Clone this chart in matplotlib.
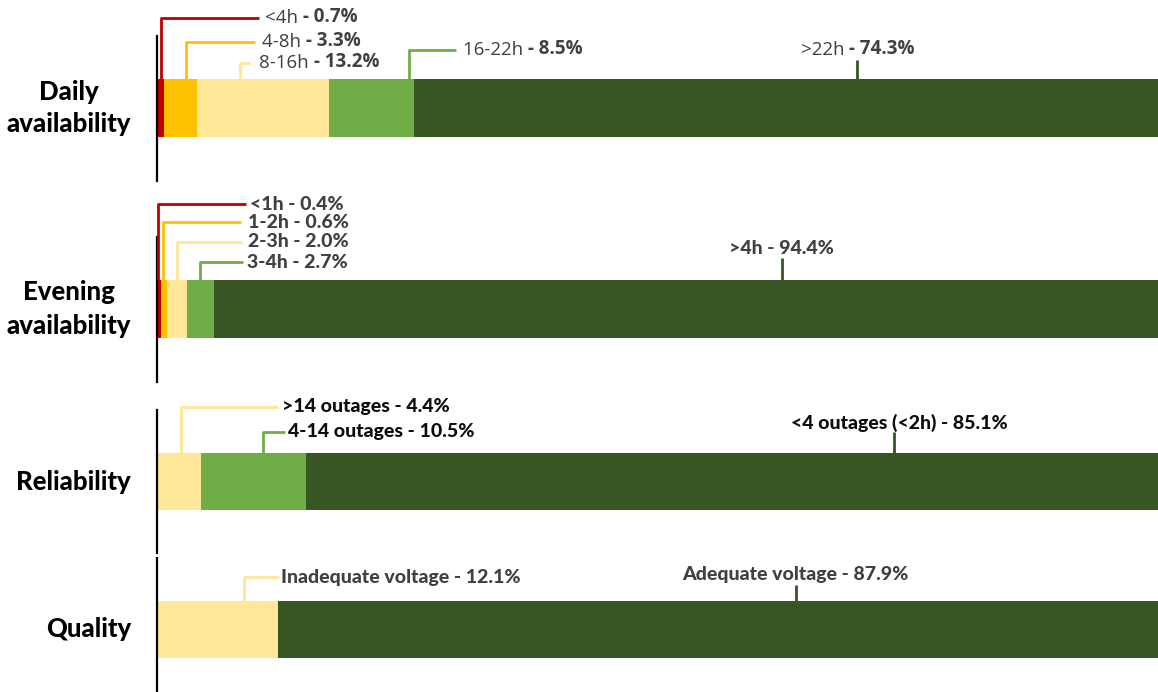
import matplotlib
matplotlib.use("Agg")
import matplotlib.pyplot as plt
from matplotlib.transforms import offset_copy

plt.rcParams['font.family'] = ['Lato', 'DejaVu Sans']

# ---------------- data ----------------
categories = ["Daily\navailability", "Evening\navailability", "Reliability", "Quality"]

daily_labels = ["<4h", "4-8h", "8-16h", "16-22h", ">22h"]
daily_values = [0.7, 3.3, 13.2, 8.5, 74.3]

evening_labels = ["<1h", "1-2h", "2-3h", "3-4h", ">4h"]
evening_values = [0.4, 0.6, 2.0, 2.7, 94.4]

reliability_labels = [">14 outages", "4-14 outages", "<4 outages (<2h)"]
reliability_values = [4.4, 10.5, 85.1]

quality_labels = ["Inadequate voltage", "Adequate voltage"]
quality_values = [12.1, 87.9]

# ---------------- styles ----------------
RED, ORANGE, PALE, GREEN, DARK = "#C00000", "#FFC000", "#FFE699", "#70AD47", "#375623"
colors5 = [RED, ORANGE, PALE, GREEN, DARK]
colors3 = [PALE, GREEN, DARK]
colors2 = [PALE, DARK]
GREY = "#404040"

W, H = 1158, 692
fig = plt.figure(figsize=(W / 100, H / 100), dpi=100)

# panel geometry in pixels: (bar centre y, bar height px)
panels = [(108, 58), (309, 58), (481.5, 57), (629, 57)]
x0_px, x1_px = 157, 1158

# label layout per panel: (anchor_x %, label_y units, line_end_x %, text_x %, ha)
layouts = [
    [(0.4, 1.55, 10.2, 10.8, 'left'), (2.9, 1.14, 9.8, 10.5, 'left'),
     (8.3, 0.78, 9.3, 10.2, 'left'), (25.2, 1.0, 29.9, 30.6, 'left'),
     (69.9, 1.0, None, 70.0, 'center')],
    [(0.05, 1.81, 8.9, 9.3, 'left'), (0.6, 1.50, 8.4, 9.1, 'left'),
     (2.0, 1.16, 8.5, 9.1, 'left'), (4.3, 0.81, 8.6, 9.0, 'left'),
     (62.4, 1.05, None, 62.4, 'center')],
    [(2.4, 1.31, 12.1, 12.5, 'left'), (10.6, 0.87, 12.8, 13.1, 'left'),
     (73.6, 1.03, None, 74.2, 'center')],
    [(8.7, 0.91, 12.2, 12.4, 'left'), (63.8, 0.95, None, 63.8, 'center')],
]

series = [
    (daily_labels, daily_values, colors5),
    (evening_labels, evening_values, colors5),
    (reliability_labels, reliability_values, colors3),
    (quality_labels, quality_values, colors2),
]
text_styles = [
    dict(fs=13.5, color=GREY, mixed=True, family='Open Sans'),
    dict(fs=14, color=GREY, mixed=False, family='Lato'),
    dict(fs=14, color='#0D0D0D', mixed=False, family='Lato'),
    dict(fs=14, color=GREY, mixed=False, family='Lato'),
]

span = 2.5  # axes height in bar-height units
fig.canvas.draw()
renderer = fig.canvas.get_renderer()

for i, (cat, (labels, values, cols), lay, st, (cy, bh)) in enumerate(
        zip(categories, series, layouts, text_styles, panels)):
    ax_h = bh * span
    bottom_px = cy + ax_h / 2
    ax = fig.add_axes([x0_px / W, 1 - bottom_px / H, (x1_px - x0_px) / W, ax_h / H])
    ax.set_xlim(0, 100)
    ax.set_ylim(-span / 2, span / 2)
    left = 0
    for v, c in zip(values, cols):
        ax.barh(0, v, left=left, height=1, color=c, linewidth=0)
        left += v
    for s in ['top', 'right', 'bottom']:
        ax.spines[s].set_visible(False)
    ax.spines['left'].set_linewidth(1.6)
    ax.spines['left'].set_color('black')
    ax.set_xticks([])
    ax.set_yticks([])
    ax.set_zorder(2 if i == 0 else 1)

    # category label
    fig.text(131 / W, 1 - cy / H, cat, ha='right', va='center', fontsize=18.5,
             fontweight='black', color='black', family='Lato', linespacing=1.45,
             multialignment='center')

    for lab, v, c, (axx, ly, lend, tx, ha) in zip(labels, values, cols, lay):
        lc = c
        if lend is not None:
            ax.plot([axx, axx, lend], [0.5, ly, ly], color=lc, lw=2,
                    clip_on=False, solid_capstyle='butt', zorder=5)
        else:
            ax.plot([axx, axx], [0.5, ly - 0.17], color=lc, lw=2,
                    clip_on=False, solid_capstyle='butt', zorder=5)
        if st['mixed']:
            t1 = ax.text(tx, ly, lab + " ", fontsize=st['fs'], color=st['color'],
                         va='center', ha='left', family=st['family'], clip_on=False)
            t2 = ax.annotate("- %.1f%%" % v, xy=(1, 0), xycoords=t1, va='bottom',
                             ha='left', fontsize=st['fs'], color=st['color'],
                             fontweight='bold', family=st['family'],
                             annotation_clip=False)
            if ha == 'center':
                fig.canvas.draw()
                w = t1.get_window_extent(renderer).width + t2.get_window_extent(renderer).width
                t1.set_transform(offset_copy(ax.transData, fig=fig, x=-w / 2, y=0,
                                             units='dots'))
        else:
            ax.text(tx, ly, "%s - %.1f%%" % (lab, v), fontsize=st['fs'],
                    color=st['color'], va='center', ha=ha, fontweight='black',
                    family=st['family'], clip_on=False)

fig.savefig("out.png", dpi=100)
